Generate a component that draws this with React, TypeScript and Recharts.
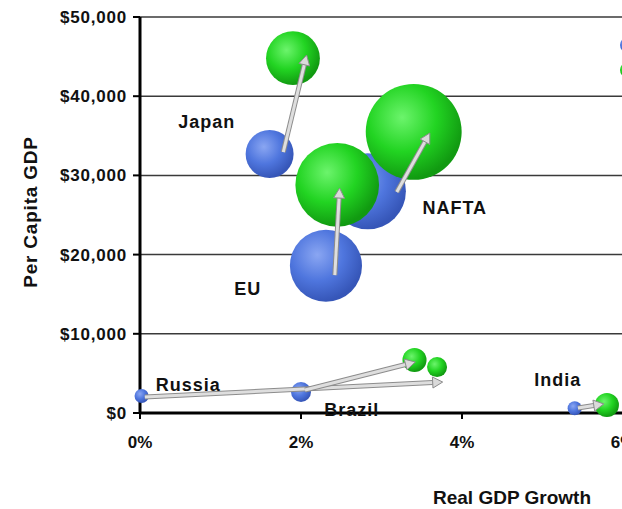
import { ScatterChart, Scatter, XAxis, YAxis, ZAxis, CartesianGrid, Legend } from 'recharts'

// bubble data: x = real GDP growth (%), y = per capita GDP ($), z = economy size
const regions = ['Japan', 'EU', 'NAFTA', 'Russia', 'Brazil', 'India']
const startGrowth = [1.61, 2.31, 2.83, 0.02, 2.0, 5.4]
const startGdp = [32700, 18600, 28000, 2150, 2650, 600]
const startSize = [23, 52, 58, 2, 4, 2]
const endGrowth = [1.9, 2.45, 3.4, 3.69, 3.41, 5.8]
const endGdp = [44800, 28800, 35500, 5800, 6700, 1000]
const endSize = [29, 70, 92, 4, 5.8, 5.8]

// arrows as drawn on the chart (tail and head, data units)
const arrowFromX = [1.78, 2.42, 3.19, 0.06, 2.05, 5.44]
const arrowFromY = [32950, 17400, 27900, 2020, 2900, 630]
const arrowToX = [2.07, 2.48, 3.6, 3.76, 3.42, 5.76]
const arrowToY = [45200, 28400, 35350, 3910, 6440, 1140]

// where the region names sit
const labelX = [0.83, 1.34, 3.91, 0.6, 2.63, 5.19]
const labelY = [36740, 15660, 25880, 3540, 380, 4170]

const xTicks = [0, 2, 4, 6, 8]
const yTicks = [0, 10000, 20000, 30000, 40000, 50000]

const startData = regions.map((r, i) => ({ name: r, x: startGrowth[i], y: startGdp[i], z: startSize[i] }))
const endData = regions.map((r, i) => ({ name: r, x: endGrowth[i], y: endGdp[i], z: endSize[i] }))
const labelData = regions.map((r, i) => ({ name: r, x: labelX[i], y: labelY[i], z: 1 }))
const arrowData = regions.map((_, i) => [
  { x: arrowFromX[i], y: arrowFromY[i], z: 1 },
  { x: arrowToX[i], y: arrowToY[i], z: 1 },
])

const FONT = '"Liberation Sans", Arial, sans-serif'

const bubble = (grad: string) => (p: any) => {
  const r = p.width / 2
  return <circle cx={p.cx} cy={p.cy} r={r} fill={`url(#${grad})`} />
}

const noDot = () => <g />

const labelShape = (p: any) => (
  <text
    x={p.cx}
    y={p.cy}
    textAnchor="middle"
    dominantBaseline="central"
    fontFamily={FONT}
    fontWeight="bold"
    fontSize={18}
    letterSpacing={1}
    fill="#111"
  >
    {p.payload.name}
  </text>
)

// draws the arrow between the two points of an arrow series
const arrowLine = (p: any) => {
  const pts = p.points || []
  if (pts.length < 2) return <g />
  const x1 = pts[0].x
  const y1 = pts[0].y
  const x2 = pts[1].x
  const y2 = pts[1].y
  const dx = x2 - x1
  const dy = y2 - y1
  const len = Math.sqrt(dx * dx + dy * dy) || 1
  const ux = dx / len
  const uy = dy / len
  const hx = x2 - ux * 10
  const hy = y2 - uy * 10
  const px = -uy * 5.5
  const py = ux * 5.5
  return (
    <g>
      <line x1={x1} y1={y1} x2={hx} y2={hy} stroke="#8c8c8c" strokeWidth={5} />
      <line x1={x1} y1={y1} x2={hx} y2={hy} stroke="#dedede" strokeWidth={3} />
      <polygon
        points={`${x2},${y2} ${hx + px},${hy + py} ${hx - px},${hy - py}`}
        fill="#dadada"
        stroke="#8c8c8c"
        strokeWidth={1}
      />
    </g>
  )
}

const legendContent = () => (
  <svg width={40} height={50} style={{ overflow: 'visible' }}>
    <circle cx={10} cy={9} r={8} fill="url(#blueBall)" />
    <circle cx={10} cy={34} r={8} fill="url(#greenBall)" />
  </svg>
)

export default function App() {
  return (
    <div style={{ position: 'fixed', left: 0, top: 0, width: 622, height: 509, overflow: 'hidden', background: '#fff' }}>
      <ScatterChart width={800} height={509} margin={{ top: 17, right: 16, bottom: 0, left: 0 }}>
        <defs>
          <radialGradient id="blueBall" cx="38%" cy="35%" r="65%">
            <stop offset="0%" stopColor="#8aa6f2" />
            <stop offset="55%" stopColor="#4f76de" />
            <stop offset="100%" stopColor="#3656b8" />
          </radialGradient>
          <radialGradient id="greenBall" cx="38%" cy="35%" r="65%">
            <stop offset="0%" stopColor="#6cf46c" />
            <stop offset="55%" stopColor="#22d422" />
            <stop offset="100%" stopColor="#119a11" />
          </radialGradient>
        </defs>
        <CartesianGrid horizontal vertical={false} stroke="#3a3a3a" strokeWidth={1.5} />
        <XAxis
          type="number"
          dataKey="x"
          domain={[0, 8]}
          ticks={xTicks}
          tickFormatter={(v: number) => `${v}%`}
          axisLine={{ stroke: '#000', strokeWidth: 3 }}
          tickLine={{ stroke: '#000', strokeWidth: 2 }}
          tickSize={6}
          tickMargin={17}
          height={96}
          tick={{ fill: '#111', fontSize: 17, fontWeight: 'bold', fontFamily: FONT }}
          label={{
            content: () => (
              <text x={512} y={504} textAnchor="middle" fontFamily={FONT} fontWeight="bold" fontSize={19} fill="#111">
                Real GDP Growth
              </text>
            ),
          }}
        />
        <YAxis
          type="number"
          dataKey="y"
          domain={[0, 50000]}
          ticks={yTicks}
          tickFormatter={(v: number) => `$${v.toLocaleString('en-US')}`}
          axisLine={{ stroke: '#000', strokeWidth: 3 }}
          tickLine={{ stroke: '#000', strokeWidth: 2 }}
          tickSize={7}
          tickMargin={6}
          width={140}
          tick={{ fill: '#111', fontSize: 17, fontWeight: 'bold', fontFamily: FONT, letterSpacing: 0.8 }}
          label={{
            content: () => (
              <text
                x={30}
                y={212}
                transform="rotate(-90 30 212)"
                textAnchor="middle"
                dominantBaseline="central"
                fontFamily={FONT}
                fontWeight="bold"
                fontSize={19}
                letterSpacing={0.8}
                fill="#111"
              >
                Per Capita GDP
              </text>
            ),
          }}
        />
        <ZAxis type="number" dataKey="z" domain={[0, 100]} range={[0, 7854]} />
        <Legend
          content={legendContent}
          wrapperStyle={{ position: 'absolute', left: 618, top: 36, width: 0, height: 0, overflow: 'visible' }}
        />
        <Scatter name="Start" data={startData} shape={bubble('blueBall')} isAnimationActive={false} />
        <Scatter name="End" data={endData} shape={bubble('greenBall')} isAnimationActive={false} />
        {arrowData.map((d, i) => (
          <Scatter
            key={regions[i]}
            data={d}
            line={arrowLine}
            shape={noDot}
            legendType="none"
            isAnimationActive={false}
          />
        ))}
        <Scatter name="labels" data={labelData} shape={labelShape} legendType="none" isAnimationActive={false} />
      </ScatterChart>
    </div>
  )
}
